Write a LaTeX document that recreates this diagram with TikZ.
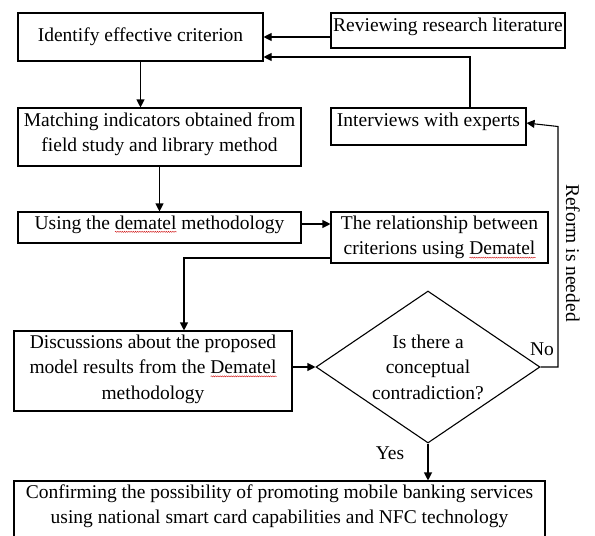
\documentclass[tikz,border=0pt]{standalone}
\usepackage{fontspec}
\setmainfont{Liberation Serif}
\usetikzlibrary{arrows.meta,shapes.geometric,decorations.pathmorphing}
\newlength\wavylen
\newcommand{\wavyu}[1]{\settowidth\wavylen{#1}\rlap{\raisebox{-3.5pt}{\tikz[x=1pt,y=1pt]\draw[red!80!black,line width=0.35pt,decorate,decoration={snake,amplitude=0.6pt,segment length=2.2pt}] (0,0)--(\wavylen,0);}}#1}
\begin{document}
\begin{tikzpicture}[x=1pt,y=-1pt,
  box/.style={draw,line width=1.1pt,inner sep=0pt,align=center,font=\fontsize{19.5}{25.5}\selectfont},
  txt/.style={inner sep=0pt,align=center,font=\fontsize{19.5}{25.5}\selectfont},
  arr/.style={-{Triangle[length=8pt,width=8pt]},line width=1.1pt}]
\useasboundingbox (0,0) rectangle (595,536);
\node[box,minimum width=245pt,minimum height=48pt] (A) at (140.5,37) {Identify effective criterion};
\node[box,minimum width=234pt,minimum height=35pt,text depth=12.3pt] (B) at (448,30.5) {Reviewing research literature};
\node[box,minimum width=195pt,minimum height=37pt,text depth=14.3pt] (C) at (428.5,126.5) {Interviews with experts};
\node[box,minimum width=283pt,minimum height=58pt,text depth=9.3pt] (D) at (159.5,137) {Matching indicators obtained from\\field study and library method};
\node[box,minimum width=283pt,minimum height=31pt,text depth=10.3pt] (E) at (159.5,227.5) {Using the \wavyu{dematel} methodology};
\node[box,minimum width=217pt,minimum height=51pt] (F) at (439.5,237.5) {The relationship between\\criterions using \wavyu{Dematel}};
\node[box,minimum width=278pt,minimum height=80pt,text depth=8.3pt] (G) at (153,371) {Discussions about the proposed\\model results from the \wavyu{Dematel}\\methodology};
\node[draw,line width=1.1pt,diamond,minimum width=224pt,minimum height=152pt,inner sep=0pt] (H) at (428,367) {};
\node[txt] (Ht) at (428,367) {Is there a\\conceptual\\contradiction?};
\node[box,minimum width=531pt,minimum height=64pt,text depth=17.3pt] (I) at (279.5,513) {Confirming the possibility of promoting mobile banking services\\using national smart card capabilities and NFC technology};
\coordinate (turn) at (558,126.5);
\draw[arr] (B.west |- A.east) -- (A.east);
\draw[arr] ([xshift=41.5pt]C.north) |- ([yshift=-20pt]A.east);
\draw[arr] (A.south) -- (A.south |- D.north);
\draw[arr] (D.south) -- (E.north);
\draw[arr] ([yshift=3.5pt]E.east) -- ([yshift=3.5pt]E.east -| F.west);
\draw[arr] ([yshift=-20.5pt]F.west) -| ([xshift=31pt]G.north);
\draw[arr] (G.east |- H.west) -- (H.west);
\draw[arr] (H.east) -| (turn) -- ([yshift=3.5pt]C.east);
\draw[arr] (H.south) -- (H.south |- I.north);
\node[txt] (no) at (542,349) {No};
\node[txt] (yes) at (390,453) {Yes};
\node[txt,rotate=-90] (reform) at (573,253) {Reform is needed};
\end{tikzpicture}
\end{document}
